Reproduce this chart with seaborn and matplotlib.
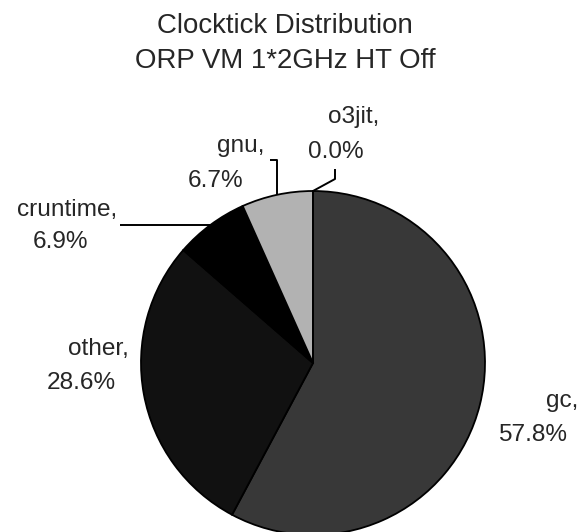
import numpy as np
import seaborn as sns
import matplotlib.pyplot as plt

sns.set_style("white")
plt.rcParams['font.family'] = ['Liberation Sans', 'DejaVu Sans']

categories = ["gc", "other", "cruntime", "gnu", "o3jit"]
shares = [57.8, 28.6, 6.9, 6.7, 0.0]
colors = ["#383838", "#111111", "#000000", "#b2b2b2", "#ffffff"]

W, H = 588, 532

# label placement in pixels (left x, baseline y), name line then value line
name_pos = {"gc": (546, 407), "other": (68, 355), "cruntime": (17, 216),
            "gnu": (217, 152), "o3jit": (328, 123)}
value_pos = {"gc": (498, 441), "other": (47, 389), "cruntime": (33, 248),
             "gnu": (188, 187), "o3jit": (308, 158)}
# elbow points of leader lines, after the point on the wedge edge
leader_bends = {"cruntime": [(120, None)],
                "gnu": [(None, 160), (270, 160)],
                "o3jit": [(335, 179), (335, 169)]}

fig = plt.figure(figsize=(W / 100, H / 100), dpi=100)
ax = fig.add_axes([0, 0, 1, 1])

cx, cy, r = 313, H - 363, 172
wedges, _ = ax.pie(shares, colors=colors, startangle=90, counterclock=False,
                   center=(cx, cy), radius=r,
                   wedgeprops=dict(edgecolor="black", linewidth=1.3))
ax.set_xlim(0, W)
ax.set_ylim(0, H)
ax.axis("off")

for cat, val, w in zip(categories, shares, wedges):
    x, y = name_pos[cat]
    ax.text(x, H - y, f"{cat},", fontsize=17.6, ha="left", va="baseline")
    x, y = value_pos[cat]
    ax.text(x, H - y, f"{val:.1f}%", fontsize=17.6, ha="left", va="baseline")
    if cat in leader_bends:
        theta = np.deg2rad((w.theta1 + w.theta2) / 2)
        px, py = cx + r * np.cos(theta), cy + r * np.sin(theta)
        xs, ys = [px], [py]
        for bx, by in leader_bends[cat]:
            xs.append(xs[-1] if bx is None else bx)
            ys.append(ys[-1] if by is None else H - by)
        ax.plot(xs, ys, color="black", lw=1.4, solid_capstyle="butt")

fig.text(285 / W, 1 - 33 / H, "Clocktick Distribution", fontsize=19.9,
         ha="center", va="baseline")
fig.text(285 / W, 1 - 68 / H, "ORP VM 1*2GHz HT Off", fontsize=19.9,
         ha="center", va="baseline")

fig.savefig("out.png", dpi=100)
